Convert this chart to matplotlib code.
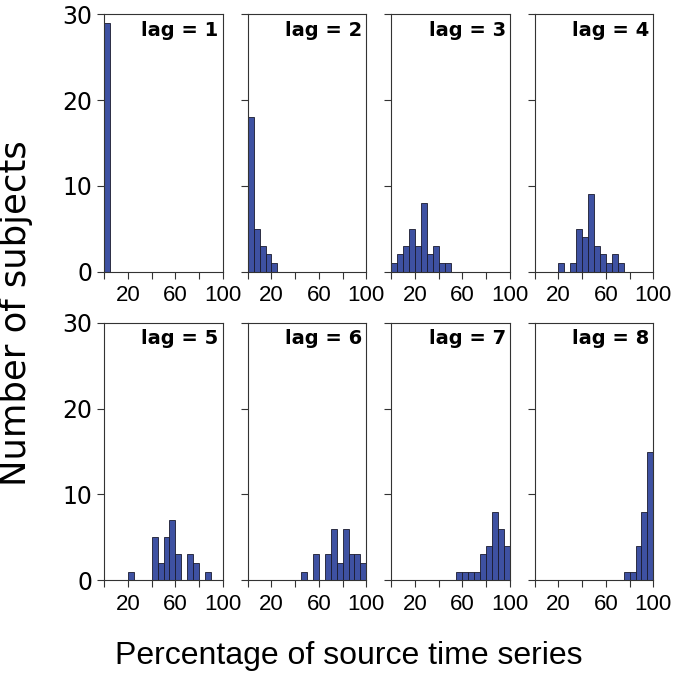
import numpy as np
import matplotlib
matplotlib.use('Agg')
import matplotlib.pyplot as plt

# Bin edges: 5% wide bins over 0-100 %
bin_edges = list(range(0, 101, 5))

# Counts of subjects per bin, one list per lag
lag1 = [29, 0, 0, 0, 0, 0, 0, 0, 0, 0, 0, 0, 0, 0, 0, 0, 0, 0, 0, 0]
lag2 = [18, 5, 3, 2, 1, 0, 0, 0, 0, 0, 0, 0, 0, 0, 0, 0, 0, 0, 0, 0]
lag3 = [1, 2, 3, 5, 3, 8, 2, 3, 1, 1, 0, 0, 0, 0, 0, 0, 0, 0, 0, 0]
lag4 = [0, 0, 0, 0, 1, 0, 1, 5, 4, 9, 3, 2, 1, 2, 1, 0, 0, 0, 0, 0]
lag5 = [0, 0, 0, 0, 1, 0, 0, 0, 5, 2, 5, 7, 3, 0, 3, 2, 0, 1, 0, 0]
lag6 = [0, 0, 0, 0, 0, 0, 0, 0, 0, 1, 0, 3, 0, 3, 6, 2, 6, 3, 3, 2]
lag7 = [0, 0, 0, 0, 0, 0, 0, 0, 0, 0, 0, 1, 1, 1, 1, 3, 4, 8, 6, 4]
lag8 = [0, 0, 0, 0, 0, 0, 0, 0, 0, 0, 0, 0, 0, 0, 0, 1, 1, 4, 8, 15]

lags = [lag1, lag2, lag3, lag4, lag5, lag6, lag7, lag8]
titles = ['lag = 1', 'lag = 2', 'lag = 3', 'lag = 4',
          'lag = 5', 'lag = 6', 'lag = 7', 'lag = 8']

if __name__ == '__main__':
    fig, axes = plt.subplots(2, 4, figsize=(6.77, 6.81), dpi=100)
    plt.subplots_adjust(left=0.154, right=0.965, top=0.979, bottom=0.148,
                        wspace=0.21, hspace=0.2)

    centers = np.array(bin_edges[:-1])
    for i, ax in enumerate(axes.flat):
        ax.hist(centers, bins=bin_edges, weights=lags[i], color='#3e51a2',
                edgecolor='#1a1a2e', linewidth=0.6)
        ax.set_xlim(0, 100)
        ax.set_ylim(0, 30)
        ax.set_xticks([0, 20, 40, 60, 80, 100])
        ax.set_xticklabels(['', '20', '', '60', '', '100'],
                           family='Liberation Sans', fontsize=16)
        ax.set_yticks([0, 10, 20, 30])
        if i % 4 == 0:
            ax.tick_params(axis='y', labelsize=17)
        else:
            ax.set_yticklabels([])
        ax.tick_params(axis='x', pad=5)
        ax.tick_params(length=5, width=0.8, color='#333333')
        for sp in ax.spines.values():
            sp.set_color('#333333')
            sp.set_linewidth(0.8)
        ax.text(0.965, 0.975, titles[i], transform=ax.transAxes, ha='right',
                va='top', fontsize=14, fontweight='bold')

    fig.text(0.024, 0.54, 'Number of subjects', rotation=90, va='center',
             ha='center', fontsize=25.5)
    fig.text(0.515, 0.036, 'Percentage of source time series', ha='center',
             va='center', fontsize=23, family='Liberation Sans')

    plt.savefig('out.png', dpi=100)
